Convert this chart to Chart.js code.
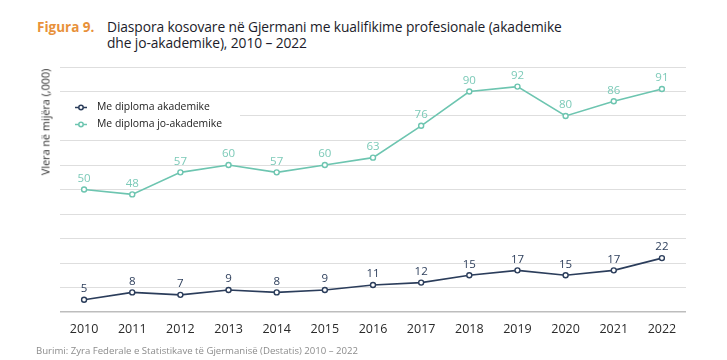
<!DOCTYPE html>
<html>
<head>
<meta charset="utf-8">
<script src="https://cdn.jsdelivr.net/npm/chart.js@4"></script>
<style>
  html, body { margin: 0; padding: 0; background: #fff; }
  #wrap { position: relative; width: 727px; height: 360px; overflow: hidden; font-family: "Open Sans", sans-serif; }
  #fig { position: absolute; left: 37px; top: 18px; font-size: 13.5px; font-weight: 700; color: #E8913A; }
  #title { position: absolute; left: 107px; top: 19px; font-size: 13.8px; font-weight: 500; color: #1c1c2a; line-height: 16px; letter-spacing: -0.1px; }
  #ytitle { position: absolute; left: 45px; top: 122px; transform: translate(-50%, -50%) rotate(-90deg); font-size: 10.8px; color: #2a2a2a; white-space: nowrap; }
  #source { position: absolute; left: 36px; top: 344px; font-size: 9.6px; color: #8c8c8c; white-space: nowrap; }
  canvas { position: absolute; left: 0; top: 0; }
</style>
</head>
<body>
<div id="wrap">
  <div id="fig">Figura 9.</div>
  <div id="title">Diaspora kosovare në Gjermani me kualifikime profesionale (akademike<br>dhe jo-akademike), 2010 – 2022</div>
  <canvas id="c" width="727" height="360"></canvas>
  <div id="ytitle">Vlera në mijëra (,000)</div>
  <div id="source">Burimi: Zyra Federale e Statistikave të Gjermanisë (Destatis) 2010 – 2022</div>
</div>
<script>
const years = ["2010","2011","2012","2013","2014","2015","2016","2017","2018","2019","2020","2021","2022"];
const akademike = [5, 8, 7, 9, 8, 9, 11, 12, 15, 17, 15, 17, 22];
const joAkademike = [50, 48, 57, 60, 57, 60, 63, 76, 90, 92, 80, 86, 91];
const seriesNames = ["Me diploma akademike", "Me diploma jo-akademike"];

const NAVY = "#2b3d5b";
const TEAL = "#6dc5b0";
const NAVY_LBL = "#2e3f5c";
const TEAL_LBL = "#7ccab8";

const labelPlugin = {
  id: "valueLabels",
  afterDatasetsDraw(chart) {
    const ctx = chart.ctx;
    ctx.save();
    ctx.font = "11.5px 'Open Sans', sans-serif";
    ctx.textAlign = "center";
    ctx.textBaseline = "middle";
    chart.data.datasets.forEach((ds, i) => {
      const meta = chart.getDatasetMeta(i);
      ctx.fillStyle = i === 0 ? NAVY_LBL : TEAL_LBL;
      meta.data.forEach((pt, j) => {
        ctx.fillText(String(ds.data[j]), pt.x, pt.y - 11);
      });
    });
    ctx.restore();
  }
};

const legendPlugin = {
  id: "customLegend",
  beforeDatasetsDraw(chart) {
    const ctx = chart.ctx;
    const a = chart.chartArea;
    ctx.save();
    ctx.fillStyle = "#ffffff";
    ctx.fillRect(a.left, 97, 180, 38);
    const items = [
      { name: seriesNames[0], color: NAVY, y: 107.5 },
      { name: seriesNames[1], color: TEAL, y: 124.5 }
    ];
    items.forEach(it => {
      ctx.strokeStyle = it.color;
      ctx.lineWidth = 1.5;
      ctx.beginPath();
      ctx.moveTo(75, it.y);
      ctx.lineTo(87, it.y);
      ctx.stroke();
      ctx.beginPath();
      ctx.arc(81, it.y, 2.2, 0, Math.PI * 2);
      ctx.fillStyle = "#fff";
      ctx.fill();
      ctx.stroke();
      ctx.fillStyle = "#222222";
      ctx.font = "10.4px 'Open Sans', sans-serif";
      ctx.textAlign = "left";
      ctx.textBaseline = "middle";
      ctx.fillText(it.name, 97, it.y);
    });
    ctx.restore();
  }
};

new Chart(document.getElementById("c"), {
  type: "line",
  data: {
    labels: years,
    datasets: [
      {
        label: seriesNames[0],
        data: akademike,
        borderColor: NAVY,
        backgroundColor: "#ffffff",
        borderWidth: 1.6,
        pointRadius: 2.5,
        pointBorderWidth: 1.4,
        pointBackgroundColor: "#ffffff",
        pointBorderColor: NAVY,
        tension: 0
      },
      {
        label: seriesNames[1],
        data: joAkademike,
        borderColor: TEAL,
        backgroundColor: "#ffffff",
        borderWidth: 1.6,
        pointRadius: 2.5,
        pointBorderWidth: 1.4,
        pointBackgroundColor: "#ffffff",
        pointBorderColor: TEAL,
        tension: 0
      }
    ]
  },
  options: {
    responsive: false,
    animation: false,
    devicePixelRatio: 1,
    layout: { padding: { left: 60, right: 41, top: 67, bottom: 13 } },
    plugins: {
      legend: { display: false },
      tooltip: { enabled: false },
      title: { display: false }
    },
    scales: {
      x: {
        offset: true,
        grid: { display: false, drawTicks: false },
        border: { display: false },
        ticks: {
          color: "#2a2a2a",
          font: { family: "'Open Sans', sans-serif", size: 12.5 },
          padding: 10,
          maxRotation: 0,
          autoSkip: false
        }
      },
      y: {
        min: 0,
        max: 100,
        ticks: { display: false, stepSize: 10 },
        grid: {
          drawTicks: false,
          color: ctx => ctx.tick && ctx.tick.value === 0 ? "#bdbdbd" : "#dedede",
          lineWidth: ctx => ctx.tick && ctx.tick.value === 0 ? 1.6 : 1
        },
        border: { display: false }
      }
    }
  },
  plugins: [legendPlugin, labelPlugin]
});
</script>
</body>
</html>
